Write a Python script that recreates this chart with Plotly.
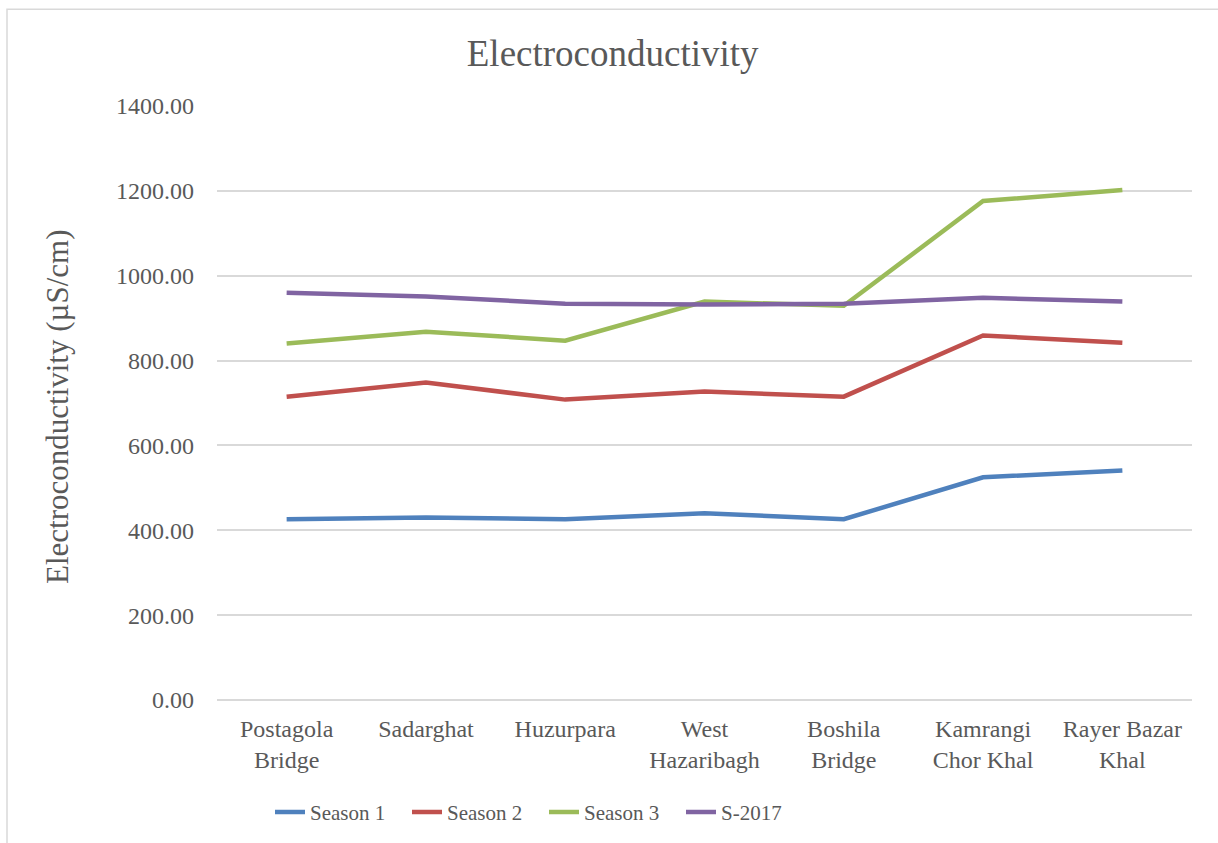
import plotly.graph_objects as go

# Sampling sites along the river
sites = ["Postagola<br>Bridge", "Sadarghat", "Huzurpara", "West<br>Hazaribagh",
         "Boshila<br>Bridge", "Kamrangi<br>Chor Khal", "Rayer Bazar<br>Khal"]

# Electroconductivity readings (µS/cm)
season_1 = [426, 430, 426, 440, 426, 525, 541]
season_2 = [715, 748, 708, 727, 715, 859, 842]
season_3 = [840, 868, 847, 939, 929, 1176, 1202]
s_2017 = [960, 951, 934, 932, 934, 948, 939]

series = [
    ("Season 1", season_1, "#4F81BD"),
    ("Season 2", season_2, "#C0504D"),
    ("Season 3", season_3, "#9BBB59"),
    ("S-2017", s_2017, "#8064A2"),
]

text_color = "#595959"
grid_color = "#D9D9D9"
serif = "Liberation Serif, Times New Roman, serif"

fig = go.Figure()
for name, vals, color in series:
    fig.add_trace(go.Scatter(
        x=sites, y=vals, name=name, mode="lines",
        line=dict(color=color, width=4.5),
    ))

fig.update_layout(
    width=1218, height=843,
    margin=dict(l=217, r=26, t=106, b=142),
    paper_bgcolor="white", plot_bgcolor="white",
    font=dict(family=serif, color=text_color),
    title=dict(text="Electroconductivity", x=0.503, xref="container",
               y=1 - 53 / 843, yref="container", yanchor="middle",
               font=dict(size=37, color=text_color, family=serif)),
    showlegend=True,
    legend=dict(orientation="h", x=(270 - 217) / 975, xanchor="left", y=-0.187,
                yanchor="middle", font=dict(size=21, color=text_color, family=serif),
                entrywidth=92, entrywidthmode="pixels"),
)

fig.update_xaxes(
    range=[-0.5, len(sites) - 0.5],
    showgrid=False, showline=False, zeroline=False, ticks="",
    tickfont=dict(size=24, color=text_color, family=serif),
    ticklabelstandoff=12,
)
fig.update_yaxes(
    range=[0, 1400], dtick=200, tickformat=".2f",
    showgrid=True, gridcolor=grid_color, gridwidth=1.5,
    zeroline=True, zerolinecolor=grid_color, zerolinewidth=1.5,
    showline=False, ticks="",
    tickfont=dict(size=24, color=text_color, family=serif),
    ticklabelstandoff=22,
)

# Vertical axis title
fig.add_annotation(
    text="Electroconductivity (µS/cm)", textangle=-90,
    xref="paper", yref="paper", x=(58 - 217) / 975, y=(701 - 407.5) / 595,
    xanchor="center", yanchor="middle", showarrow=False,
    font=dict(size=31, color=text_color, family=serif),
)

# Chart frame
fig.add_shape(
    type="rect", xref="paper", yref="paper",
    x0=(7 - 217) / 975, x1=1.2, y0=-0.5, y1=(701 - 9) / 595,
    line=dict(color=grid_color, width=1.5), layer="below",
)

fig.write_html("out.html")
